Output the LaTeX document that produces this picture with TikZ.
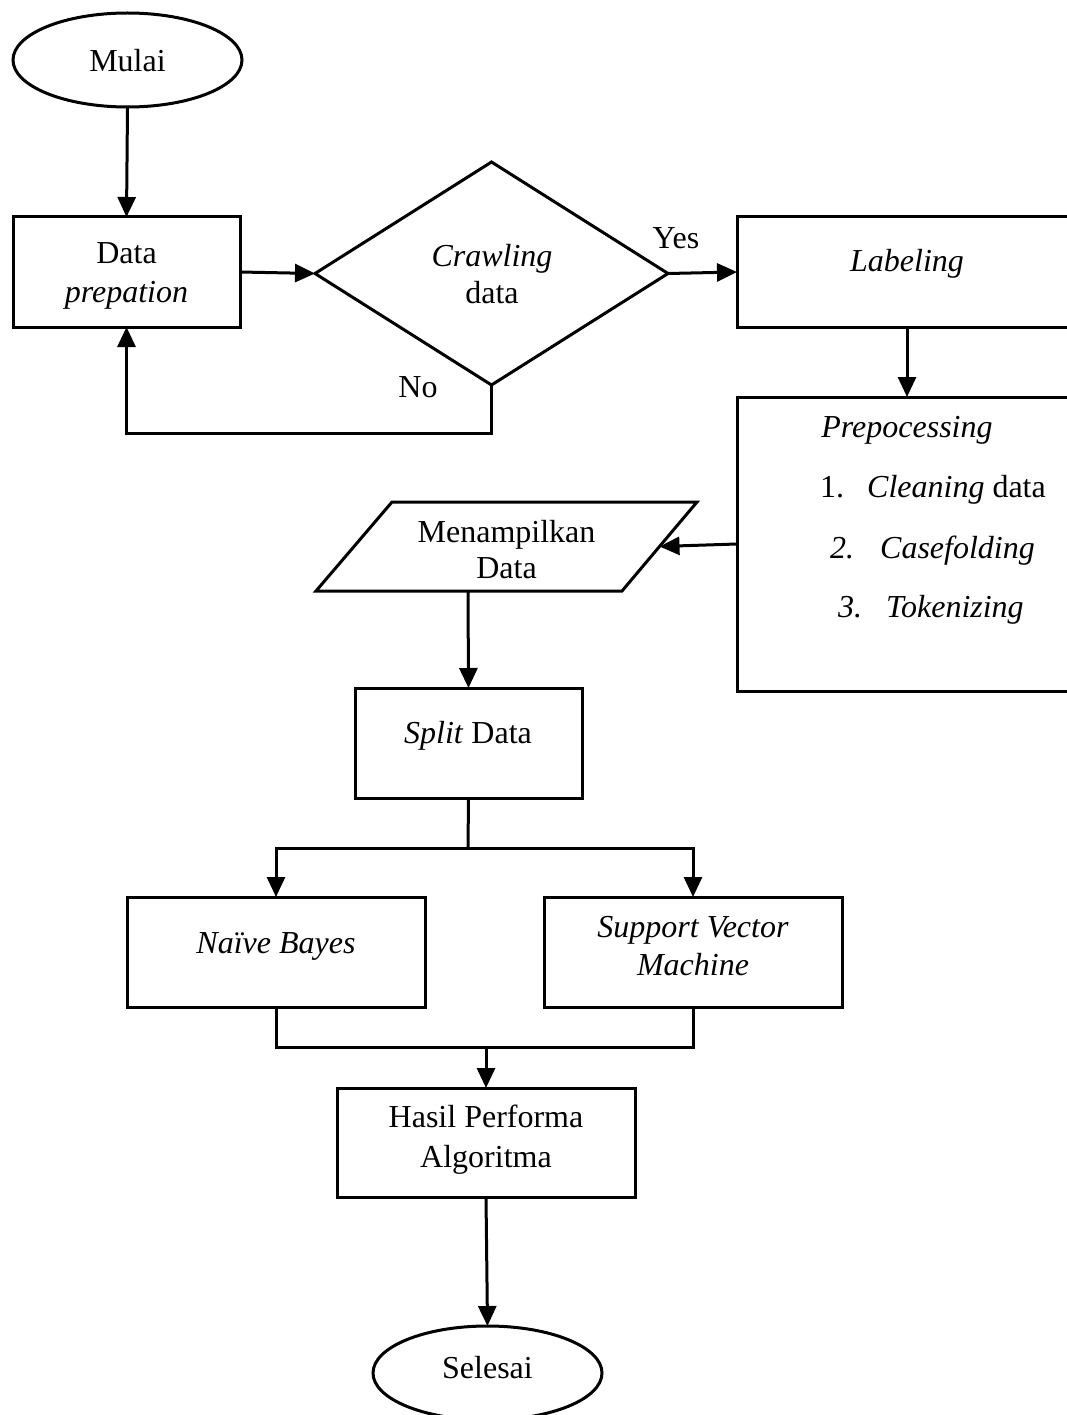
\documentclass[tikz,border=0pt]{standalone}
\usepackage{fontspec}
\setmainfont{Liberation Serif}
\usetikzlibrary{arrows.meta,shapes.geometric}
\begin{document}
\begin{tikzpicture}[x=1pt,y=-1pt,
  every node/.style={font=\fontsize{32}{38}\selectfont},
  ln/.style={line width=3pt,draw=black},
  box/.style={draw,line width=3pt,rectangle,inner sep=0pt,outer sep=0pt},
  oval/.style={draw,line width=3pt,ellipse,inner sep=0pt,outer sep=0pt},
  dec/.style={draw,line width=3pt,diamond,inner sep=0pt,outer sep=0pt},
  txt/.style={inner sep=0pt,anchor=base},
  arr/.style={line width=3pt,-{Triangle[length=20pt,width=18pt]}}]
\useasboundingbox (0,0) rectangle (1067,1415);

% shapes
\node[oval,minimum width=229pt,minimum height=94pt] (mulai) at (127.5,60) {};
\node[box,minimum width=227pt,minimum height=110pt] (dp) at (126.5,272) {};
\node[dec,minimum width=353pt,minimum height=223pt] (cr) at (491.5,273.5) {};
\node[box,minimum width=340pt,minimum height=110pt] (lab) at (907,272) {};
\node[box,minimum width=340pt,minimum height=294pt] (pre) at (907,544) {};
\draw[ln,line join=miter] (392,502) -- (697,502) -- (622,591) -- (316,591) -- cycle;
\coordinate (showR) at (659.5,546.5);
\coordinate (showS) at (468,591);
\node[box,minimum width=227pt,minimum height=110pt] (split) at (468.5,743) {};
\node[box,minimum width=298pt,minimum height=110pt] (nb) at (276,952) {};
\node[box,minimum width=298pt,minimum height=110pt] (svm) at (693,952) {};
\node[box,minimum width=298pt,minimum height=109pt] (hasil) at (486,1142.5) {};
\node[oval,minimum width=229pt,minimum height=94pt] (sel) at (487.5,1373) {};

% texts
\node[txt] (mulaiT) at (127.5,72) {Mulai};
\node[txt] (dpT1) at (126.5,264) {Data};
\node[txt] (dpT2) at (126.5,302) {\textit{prepation}};
\node[txt] (crT1) at (492,266) {\textit{Crawling}};
\node[txt] (crT2) at (492,303) {data};
\node[txt] (yes) at (676,249) {Yes};
\node[txt] (no) at (418,397) {No};
\node[txt] (labT) at (907,272) {\textit{Labeling}};
\node[txt] (preT) at (907,437) {\textit{Prepocessing}};
\node[txt,anchor=base west] (it1) at (820,497) {\makebox[47pt][l]{1.}\textit{Cleaning} data};
\node[txt,anchor=base west] (it2) at (830,558) {\makebox[50pt][l]{\textit{2.}}\textit{Casefolding}};
\node[txt,anchor=base west] (it3) at (838,617) {\makebox[48pt][l]{\textit{3.}}\textit{Tokenizing}};
\node[txt] (showT1) at (506.5,542) {Menampilkan};
\node[txt] (showT2) at (506.5,578) {Data};
\node[txt] (splitT) at (468,743) {\textit{Split} Data};
\node[txt] (nbT) at (276,953) {\textit{Naïve Bayes}};
\node[txt] (svmT1) at (693,937) {\textit{Support Vector}};
\node[txt] (svmT2) at (693,975) {\textit{Machine}};
\node[txt] (hasT1) at (486,1127) {Hasil Performa};
\node[txt] (hasT2) at (486,1167) {Algoritma};
\node[txt] (selT) at (487.5,1378) {Selesai};

% connectors
\draw[arr] (mulai.south) -- (dp.north);
\draw[arr] (dp.east) -- (cr.west);
\draw[arr] (cr.east) -- (lab.west);
\draw[arr,line join=miter] (cr.south) -- (491.5,433) -| (dp.south);
\draw[arr] (lab.south) -- (pre.north);
\draw[arr] (pre.west) -- (showR);
\draw[arr] (showS) -- (split.north);
\draw[ln] (split.south) -- (468,848) coordinate (br);
\draw[arr,line join=miter] (br) -| (nb.north);
\draw[arr,line join=miter] (br) -| (svm.north);
\draw[ln,line join=miter] (nb.south) |- (486,1047) coordinate (mg);
\draw[ln,line join=miter] (svm.south) |- (mg);
\draw[arr] (mg) -- (hasil.north);
\draw[arr] (hasil.south) -- (sel.north);
\end{tikzpicture}
\end{document}
